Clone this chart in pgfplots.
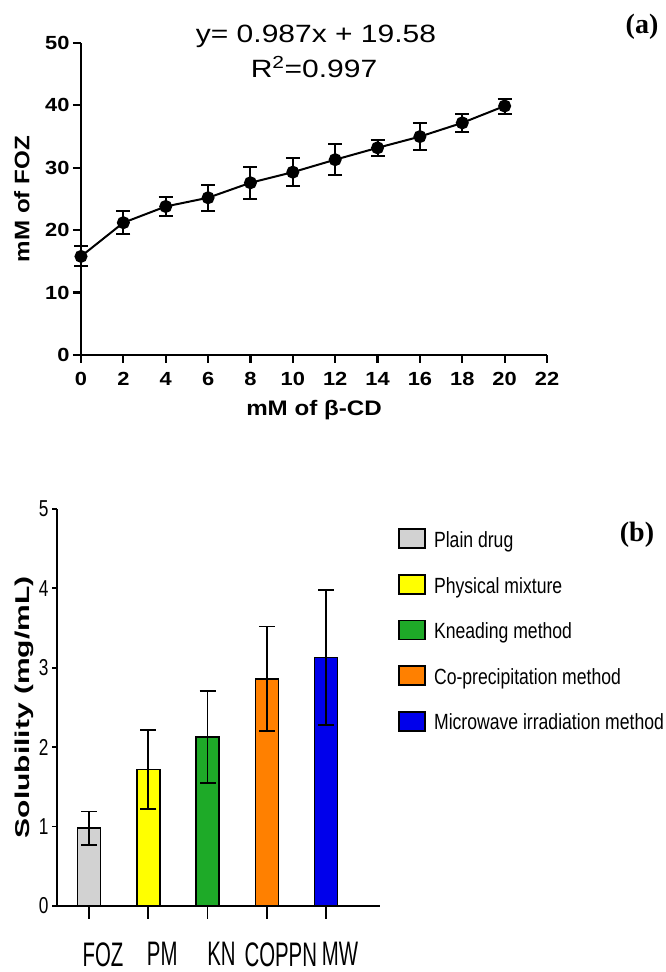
\documentclass[border=0pt]{standalone}
\usepackage{pgfplots}
\pgfplotsset{compat=1.18}
\usepackage{fontspec}
\setmainfont{Liberation Sans}
\newfontfamily\widea[FakeStretch=1.15]{Liberation Sans}
\newfontfamily\annot[FakeStretch=1.2]{Liberation Sans}
\newfontfamily\narrowx[FakeStretch=0.6]{Liberation Sans}
\newfontfamily\narrowy[FakeStretch=0.75]{Liberation Sans}
\newfontfamily\narrowl[FakeStretch=0.8]{Liberation Sans}
\newfontfamily\wideyl[FakeStretch=1.5]{Liberation Sans}
\newfontfamily\serifb{Liberation Serif}
\definecolor{cgray}{RGB}{210,210,210}
\definecolor{cyel}{RGB}{255,255,0}
\definecolor{cgreen}{RGB}{30,170,40}
\definecolor{corange}{RGB}{255,128,0}
\definecolor{cblue}{RGB}{0,0,235}
\pgfplotsset{mybar/.style={ybar, bar width=23pt, bar shift=0pt, draw=black, line width=1.6pt,
  legend image code/.code={\draw[##1,line width=1.8pt] (0pt,-8pt) rectangle (26pt,11pt);},
  /pgfplots/error bars/y dir=both, /pgfplots/error bars/y explicit,
  /pgfplots/error bars/error bar style={line width=1.8pt,black},
  /pgfplots/error bars/error mark options={rotate=90, mark size=8pt, line width=1.8pt, black}}}
\begin{document}
\begin{tikzpicture}[x=1pt,y=1pt]
\useasboundingbox (0,0) rectangle (665,972);
% ---------- (a)
\begin{axis}[
  at={(81pt,617pt)}, anchor=south west,
  scale only axis, width=466pt, height=312pt,
  xmin=0, xmax=22, ymin=0, ymax=50,
  axis lines=left, axis line style={line width=2.4pt,-},
  xtick={0,2,...,22}, ytick={0,10,...,50},
  tick style={line width=2.2pt,black}, tick align=outside, major tick length=8pt,
  /pgf/number format/assume math mode=true,
  ticklabel style={font=\widea\bfseries\fontsize{19}{21}\selectfont},
  xticklabel style={yshift=-6pt},
  xlabel={mM of β-CD}, ylabel={mM of FOZ},
  label style={font=\widea\bfseries\fontsize{21}{24}\selectfont},
  xlabel style={at={(axis description cs:0.5,-0.176)}, anchor=center},
  ylabel style={at={(axis description cs:-0.127,0.5)}, anchor=center},
  clip=false,
]
\addplot[black, line width=2pt, mark=*, mark size=5.5pt,
  error bars/.cd, y dir=both, y explicit,
  error bar style={line width=2pt},
  error mark options={rotate=90, mark size=7pt, line width=2pt}]
 coordinates {
 (0,15.8) +- (0,1.6)
 (2,21.2) +- (0,1.8)
 (4,23.8) +- (0,1.45)
 (6,25.2) +- (0,2.1)
 (8,27.6) +- (0,2.6)
 (10,29.3) +- (0,2.2)
 (12,31.3) +- (0,2.5)
 (14,33.2) +- (0,1.25)
 (16,35.0) +- (0,2.2)
 (18,37.2) +- (0,1.4)
 (20,39.9) +- (0,1.2)
 };
\end{axis}
\node[anchor=base, font=\annot\fontsize{25}{27}\selectfont] at (316,929) {y= 0.987x + 19.58};
\node[anchor=base, font=\annot\fontsize{25}{27}\selectfont] at (314,894) {R\textsuperscript{2}=0.997};
\node[font=\serifb\bfseries\fontsize{28}{30}\selectfont] at (642,945) {(a)};
% ---------- (b)
\begin{axis}[
  at={(57pt,66pt)}, anchor=south west,
  scale only axis, width=323pt, height=397pt,
  xmin=-0.54, xmax=4.91, ymin=0, ymax=5,
  axis lines=left, axis line style={line width=2pt,-},
  xtick={0,...,4}, xticklabels={FOZ,PM,KN,COPPN,MW},
  ytick={0,...,5},
  tick style={line width=1.8pt,black}, tick align=outside, major tick length=13pt,
  ytick style={/pgfplots/major tick length=5pt},
  /pgf/number format/assume math mode=true,
  yticklabel style={font=\narrowy\fontsize{23}{25}\selectfont, xshift=8pt},
  xticklabel style={font=\narrowx\fontsize{34}{36}\selectfont, yshift=-20pt, xshift=14pt},
  ylabel={Solubility (mg/mL)},
  ylabel style={font=\wideyl\bfseries\fontsize{20}{22}\selectfont,
    at={(axis description cs:-0.102,0.5)}, anchor=center},
  legend style={draw=none, fill=none, at={(1.056,0.952)}, anchor=north west,
    font=\narrowl\fontsize{22}{24}\selectfont, row sep=23pt, inner sep=0pt,
    /tikz/every odd column/.style={column sep=6pt}},
  legend cell align=left,
  clip=false,
]
\addplot[mybar, fill=cgray] coordinates {(0,0.98) +- (0,0.21)};
\addlegendentry{Plain drug}
\addplot[mybar, fill=cyel] coordinates {(1,1.72) +- (0,0.5)};
\addlegendentry{Physical mixture}
\addplot[mybar, fill=cgreen] coordinates {(2,2.13) +- (0,0.58)};
\addlegendentry{Kneading method}
\addplot[mybar, fill=corange] coordinates {(3,2.86) +- (0,0.66)};
\addlegendentry{Co-precipitation method}
\addplot[mybar, fill=cblue] coordinates {(4,3.13) +- (0,0.85)};
\addlegendentry{Microwave irradiation method}
\end{axis}
\node[font=\serifb\bfseries\fontsize{28}{30}\selectfont] at (637,437) {(b)};
\end{tikzpicture}
\end{document}
